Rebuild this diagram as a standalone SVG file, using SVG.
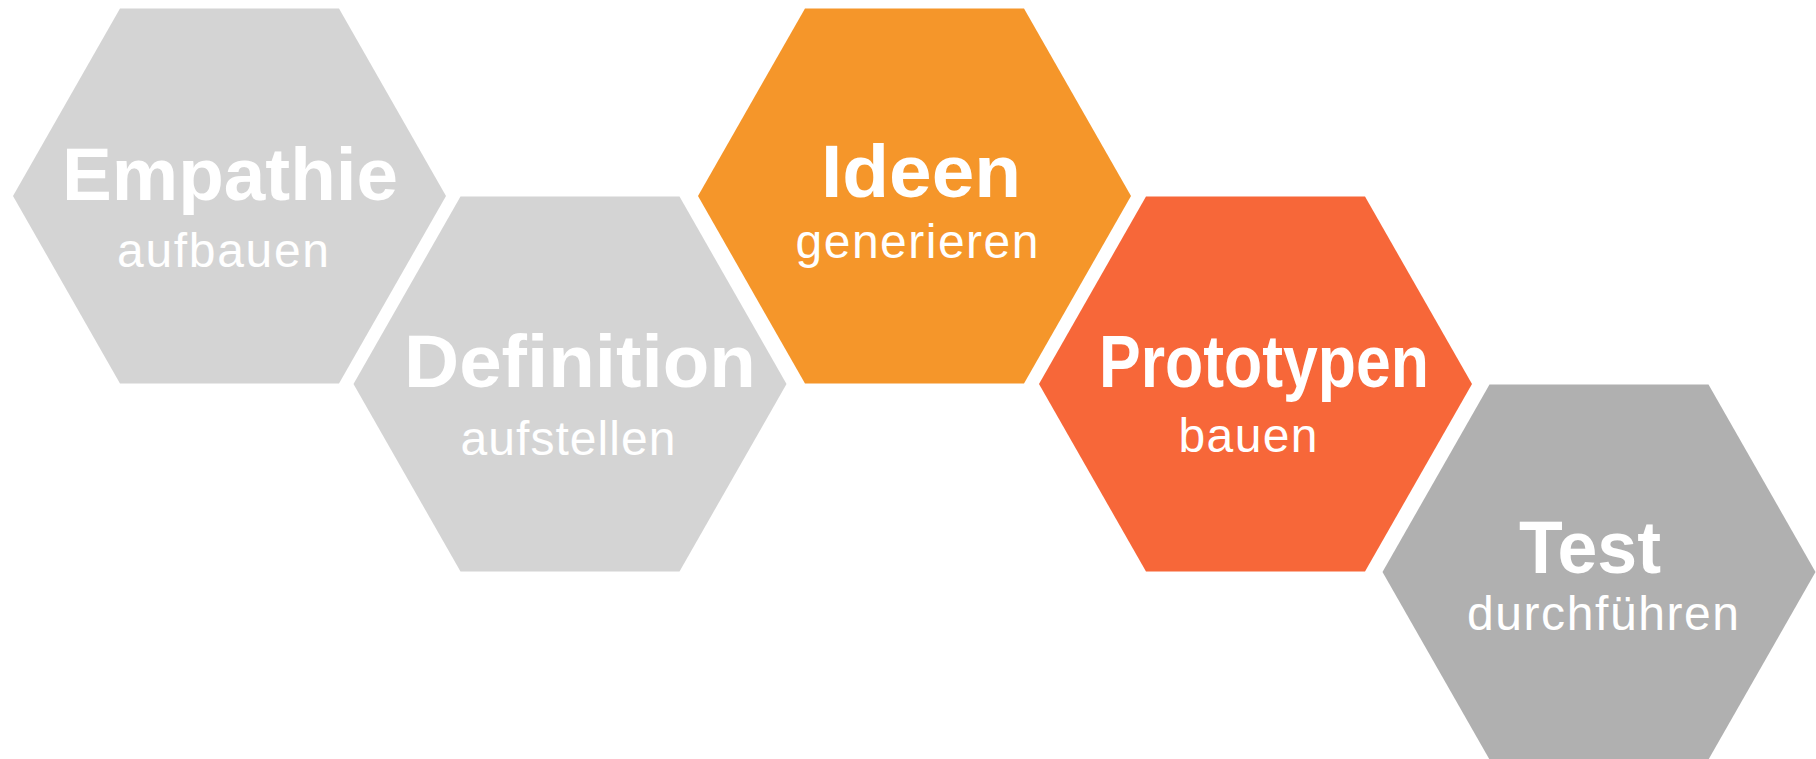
<svg xmlns="http://www.w3.org/2000/svg" xmlns:xlink="http://www.w3.org/1999/xlink" width="1816" height="759" viewBox="0 0 1816 759">
  <style>
    .title { font-family: "Liberation Sans", Arial, sans-serif; font-weight: bold; font-size: 74px; fill: #ffffff; text-anchor: middle; }
    .sub { font-family: "Liberation Sans", Arial, sans-serif; font-size: 48px; fill: #ffffff; text-anchor: middle; }
    .light { fill: #d4d4d4; }
    .orange { fill: #f5962a; }
    .red { fill: #f76739; }
    .dark { fill: #b0b0b0; }
  </style>
  <defs>
    <polygon id="hex" points="-216.5,0 -109.5,-187.5 109.5,-187.5 216.5,0 109.5,187.5 -109.5,187.5"/>
  </defs>
  <rect width="1816" height="759" fill="#ffffff"/>
  <g id="connectors"></g>
  <g id="node-empathie">
    <use href="#hex" xlink:href="#hex" x="229.5" y="196" class="light"/>
    <text class="title" x="230" y="200" textLength="336" lengthAdjust="spacingAndGlyphs">Empathie</text>
    <text class="sub" x="223" y="267" textLength="212" lengthAdjust="spacing">aufbauen</text>
  </g>
  <g id="node-definition">
    <use href="#hex" xlink:href="#hex" x="570" y="384" class="light"/>
    <text class="title" x="580" y="387" textLength="352" lengthAdjust="spacingAndGlyphs">Definition</text>
    <text class="sub" x="568" y="455" textLength="215" lengthAdjust="spacing">aufstellen</text>
  </g>
  <g id="node-ideen">
    <use href="#hex" xlink:href="#hex" x="914.5" y="196" class="orange"/>
    <text class="title" x="921" y="197" textLength="200" lengthAdjust="spacingAndGlyphs">Ideen</text>
    <text class="sub" x="917" y="258" textLength="243" lengthAdjust="spacing">generieren</text>
  </g>
  <g id="node-prototypen">
    <use href="#hex" xlink:href="#hex" x="1255.5" y="384" class="red"/>
    <text class="title" x="1264" y="387" font-size="72" textLength="330" lengthAdjust="spacingAndGlyphs">Prototypen</text>
    <text class="sub" x="1248" y="452" textLength="139" lengthAdjust="spacing">bauen</text>
  </g>
  <g id="node-test">
    <use href="#hex" xlink:href="#hex" x="1599" y="572" class="dark"/>
    <text class="title" x="1590" y="573" textLength="142" lengthAdjust="spacingAndGlyphs">Test</text>
    <text class="sub" x="1603" y="630" textLength="272" lengthAdjust="spacing">durchführen</text>
  </g>
</svg>
